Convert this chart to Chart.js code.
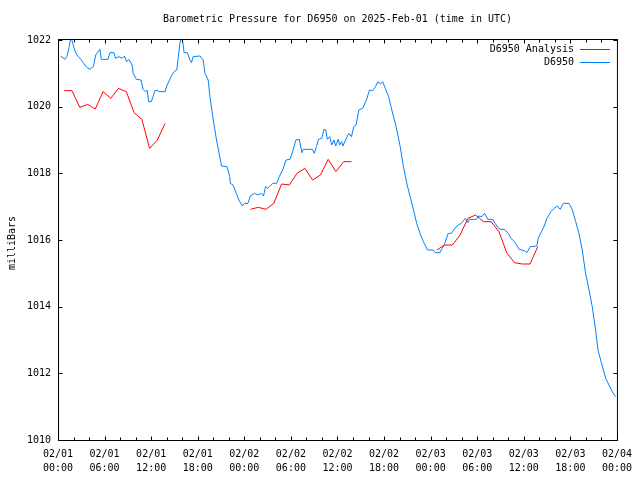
<!DOCTYPE html>
<html>
<head>
<meta charset="utf-8">
<script src="https://cdn.jsdelivr.net/npm/chart.js@4/dist/chart.umd.min.js"></script>
<style>
html,body{margin:0;padding:0;background:#fff;}
#wrap{width:640px;height:480px;}
</style>
</head>
<body>
<div id="wrap"><canvas id="c" width="640" height="480"></canvas></div>
<script>
// ---- Data (hours since 2025-02-01 00:00 UTC, milliBars) ----
const titleText = "Barometric Pressure for D6950 on 2025-Feb-01 (time in UTC)";
const yAxisTitle = "milliBars";
const seriesNames = ["D6950 Analysis", "D6950"];
const xTickDates = ["02/01","02/01","02/01","02/01","02/02","02/02","02/02","02/02","02/03","02/03","02/03","02/03","02/04"];
const xTickTimes = ["00:00","06:00","12:00","18:00","00:00","06:00","12:00","18:00","00:00","06:00","12:00","18:00","00:00"];
const yTicks = [1010,1012,1014,1016,1018,1020,1022];

const analysisHours = [0.8,1.8,2.8,3.8,4.8,5.8,6.8,7.8,8.8,9.8,10.8,11.8,12.8,13.8,null,
  24.8,25.8,26.8,27.8,28.8,29.8,30.8,31.8,32.8,33.8,34.8,35.8,36.8,37.8,null,
  48.8,49.8,50.8,51.8,52.8,53.8,54.8,55.8,56.8,57.8,58.8,59.8,60.8,61.8];
const analysisValues = [1020.48,1020.48,1019.98,1020.07,1019.93,1020.45,1020.25,1020.55,1020.45,1019.82,1019.62,1018.75,1019.0,1019.5,null,
  1016.92,1016.98,1016.92,1017.1,1017.68,1017.65,1018.0,1018.15,1017.8,1017.95,1018.42,1018.05,1018.35,1018.35,null,
  1015.7,1015.85,1015.85,1016.15,1016.65,1016.75,1016.55,1016.55,1016.25,1015.62,1015.32,1015.28,1015.28,1015.8];

const stationHours = [0.3,0.9,1.15,1.45,1.66,1.9,2.15,2.43,2.94,3.3,3.7,4.13,4.56,4.86,5.4,5.58,6.43,6.69,7.2,7.42,7.84,8.27,8.57,8.82,9.12,9.55,9.68,10.1,10.7,10.96,11.25,11.47,11.68,12.02,12.53,13.17,13.8,14.0,14.67,14.96,15.3,15.5,15.7,15.9,16.1,16.24,16.66,17.0,17.2,17.4,18.3,18.7,18.93,19.35,19.57,20.0,20.42,20.76,21.06,21.78,22.12,22.2,22.55,22.98,23.3,23.74,24.04,24.47,24.77,25.32,25.75,26.17,26.47,26.73,27.03,27.66,28.17,28.5,28.94,29.37,29.88,30.22,30.65,31.08,31.42,31.59,32.78,33.0,33.3,33.55,33.98,34.27,34.49,34.7,35.0,35.26,35.55,35.77,36.1,36.28,36.54,36.7,37.04,37.47,37.8,38.1,38.4,38.75,39.26,39.8,40.12,40.54,40.89,41.22,41.53,41.82,42.16,42.59,43.0,43.45,43.78,44.08,44.5,44.93,45.36,45.8,46.2,46.64,47.06,47.6,48.34,48.6,49.2,49.5,49.83,50.26,50.68,51.1,51.54,51.96,52.47,52.8,53.0,53.9,54.2,54.6,54.96,55.37,56.0,56.3,56.74,57.07,57.5,58.0,58.35,58.8,59.4,60.06,60.4,60.84,61.68,61.86,62.2,62.64,62.97,63.5,63.9,64.33,64.68,65.1,65.83,66.26,66.69,67.1,67.53,67.96,68.4,68.82,69.25,69.56,69.9,70.25,70.55,70.98,71.4,71.8];
const stationValues = [1021.52,1021.42,1021.5,1021.8,1022.1,1021.9,1021.7,1021.55,1021.42,1021.3,1021.18,1021.12,1021.2,1021.55,1021.72,1021.42,1021.42,1021.62,1021.62,1021.45,1021.5,1021.45,1021.52,1021.35,1021.42,1021.25,1021.0,1020.82,1020.8,1020.52,1020.45,1020.5,1020.15,1020.15,1020.5,1020.45,1020.45,1020.62,1020.95,1021.05,1021.1,1021.5,1021.9,1022.1,1021.9,1021.62,1021.62,1021.4,1021.32,1021.5,1021.52,1021.4,1021.0,1020.8,1020.3,1019.6,1019.0,1018.6,1018.22,1018.2,1017.9,1017.7,1017.65,1017.4,1017.2,1017.02,1017.1,1017.1,1017.32,1017.4,1017.35,1017.4,1017.32,1017.6,1017.55,1017.7,1017.7,1017.9,1018.1,1018.4,1018.42,1018.65,1019.0,1019.02,1018.62,1018.72,1018.72,1018.6,1018.8,1019.02,1019.05,1019.32,1019.3,1019.02,1019.1,1018.85,1019.0,1018.82,1019.02,1018.85,1018.95,1018.82,1019.0,1019.2,1019.1,1019.4,1019.45,1019.9,1019.95,1020.25,1020.5,1020.48,1020.6,1020.75,1020.68,1020.75,1020.55,1020.3,1019.9,1019.5,1019.15,1018.8,1018.2,1017.7,1017.3,1016.9,1016.5,1016.2,1015.95,1015.7,1015.7,1015.62,1015.62,1015.75,1015.9,1016.2,1016.2,1016.35,1016.45,1016.5,1016.65,1016.52,1016.62,1016.62,1016.72,1016.7,1016.8,1016.62,1016.62,1016.5,1016.35,1016.32,1016.32,1016.2,1016.05,1015.95,1015.72,1015.68,1015.62,1015.8,1015.82,1016.05,1016.22,1016.42,1016.65,1016.85,1016.95,1017.02,1016.92,1017.1,1017.1,1016.9,1016.55,1016.2,1015.7,1015.0,1014.5,1014.0,1013.3,1012.7,1012.4,1012.1,1011.85,1011.65,1011.45,1011.3];

const seriesColors = ["#ff0000", "#0080ff"];
const FONT = "'DejaVu Sans Mono', 'Liberation Mono', monospace";

function toPoints(xs, ys) {
  return xs.map((x, i) => (x === null ? {x: NaN, y: null} : {x: x, y: ys[i]}));
}

const framePlugin = {
  id: 'framePlugin',
  afterDraw(chart) {
    const ctx = chart.ctx;
    const a = chart.chartArea;
    const xs = chart.scales.x, ys = chart.scales.y;
    ctx.save();
    ctx.strokeStyle = '#000';
    ctx.lineWidth = 1;
    // frame
    ctx.strokeRect(a.left + 0.5, a.top - 0.5, a.right - a.left, a.bottom - a.top + 1);
    // x ticks (every 2 hours)
    ctx.beginPath();
    for (let h = 0; h <= 72; h += 2) {
      const px = Math.round(xs.getPixelForValue(h)) + 0.5;
      const len = (h % 6 === 0) ? 4 : 3;
      ctx.moveTo(px, a.bottom + 0.5); ctx.lineTo(px, a.bottom + 0.5 - len);
      ctx.moveTo(px, a.top - 0.5); ctx.lineTo(px, a.top - 0.5 + len);
    }
    // y ticks
    yTicks.forEach(v => {
      const py = Math.round(ys.getPixelForValue(v)) + 0.5;
      ctx.moveTo(a.left + 0.5, py); ctx.lineTo(a.left + 0.5 + 4, py);
      ctx.moveTo(a.right + 0.5, py); ctx.lineTo(a.right + 0.5 - 4, py);
    });
    ctx.stroke();
    // title
    ctx.fillStyle = '#000';
    ctx.font = "10px " + FONT;
    ctx.textAlign = 'center';
    ctx.textBaseline = 'middle';
    ctx.fillText(titleText, (a.left + a.right) / 2, 19);
    // y axis title
    ctx.save();
    ctx.translate(12.5, 243);
    ctx.rotate(-Math.PI / 2);
    ctx.fillText(yAxisTitle, 0, 0);
    ctx.restore();
    // legend
    ctx.textAlign = 'right';
    const legY = [49.5, 62.5];
    seriesNames.forEach((n, i) => {
      ctx.fillStyle = '#000';
      ctx.fillText(n, 574, legY[i]);
      ctx.strokeStyle = seriesColors[i];
      ctx.beginPath();
      ctx.moveTo(580, legY[i]); ctx.lineTo(610, legY[i]);
      ctx.stroke();
    });
    ctx.restore();
  }
};

new Chart(document.getElementById('c'), {
  type: 'line',
  data: {
    datasets: [
      {
        label: seriesNames[0],
        data: toPoints(analysisHours, analysisValues),
        borderColor: seriesColors[0],
        borderWidth: 1,
        pointRadius: 0,
        tension: 0,
        spanGaps: false,
        fill: false
      },
      {
        label: seriesNames[1],
        data: toPoints(stationHours, stationValues),
        borderColor: seriesColors[1],
        borderWidth: 1,
        pointRadius: 0,
        tension: 0,
        fill: false
      }
    ]
  },
  options: {
    responsive: false,
    animation: false,
    parsing: true,
    layout: { padding: { top: 40, right: 19, left: 0, bottom: 0 } },
    plugins: {
      legend: { display: false },
      title: { display: false },
      tooltip: { enabled: false }
    },
    scales: {
      x: {
        type: 'linear',
        min: 0, max: 72,
        afterFit: s => { s.height = 40; },
        afterBuildTicks: s => { s.ticks = xTickDates.map((d, i) => ({ value: i * 6 })); },
        grid: { display: false, drawTicks: false },
        border: { display: false },
        ticks: {
          padding: 8,
          maxRotation: 0,
          autoSkip: false,
          color: '#000',
          font: { family: FONT, size: 10, lineHeight: 1.33 },
          callback: (v) => { const i = Math.round(v / 6); return [xTickDates[i], xTickTimes[i]]; }
        }
      },
      y: {
        type: 'linear',
        min: 1010, max: 1022,
        afterFit: s => { s.width = 58; },
        afterBuildTicks: s => { s.ticks = yTicks.map(v => ({ value: v })); },
        grid: { display: false, drawTicks: false },
        border: { display: false },
        ticks: {
          padding: 7,
          color: '#000',
          font: { family: FONT, size: 10 },
          callback: v => String(v)
        }
      }
    }
  },
  plugins: [framePlugin]
});
</script>
</body>
</html>
